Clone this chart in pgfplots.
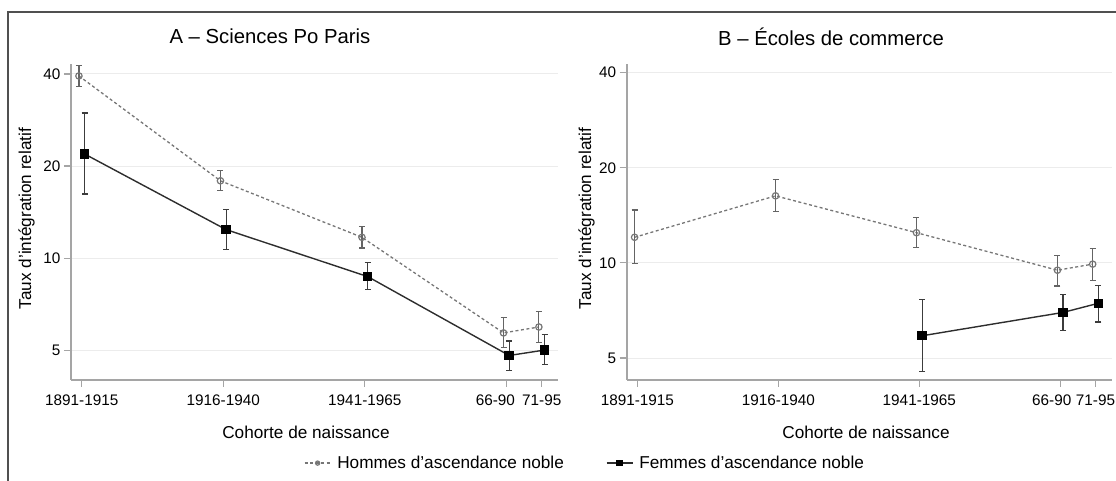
\documentclass[border=0pt]{standalone}
\usepackage{pgfplots}
\pgfplotsset{compat=1.18}
\usepackage{pgfplotstable}
\usepackage{fontspec}
\setmainfont{Liberation Sans}

\definecolor{hgray}{RGB}{118,118,118}
\definecolor{hbar}{RGB}{100,100,100}
\definecolor{fdark}{RGB}{45,45,45}
\definecolor{fbar}{RGB}{60,60,60}
\definecolor{axgray}{RGB}{165,165,165}
\definecolor{gridgray}{RGB}{236,236,236}
\definecolor{framegray}{RGB}{80,80,80}

\pgfplotstableread{
x y ep em
-0.02 39.4 3.2 3.1
0.98 17.9 1.4 1.3
1.98 11.7 1.0 0.9
2.98 5.70 0.71 0.59
3.23 5.96 0.72 0.65
}\tabAH
\pgfplotstableread{
x y ep em
0.02 21.9 7.9 5.7
1.02 12.4 2.0 1.7
2.02 8.71 0.97 0.81
3.02 4.81 0.55 0.52
3.27 5.01 0.61 0.51
}\tabAF
\pgfplotstableread{
x y ep em
-0.02 12.05 2.65 2.12
0.98 16.3 2.05 1.74
1.98 12.46 1.49 1.28
2.98 9.48 1.09 1.03
3.23 9.91 1.21 1.10
}\tabBH
\pgfplotstableread{
x y ep em
2.02 5.88 1.76 1.35
3.02 6.97 0.97 0.86
3.27 7.45 1.05 0.95
}\tabBF

\begin{document}
\begin{tikzpicture}
\path[use as bounding box] (0pt,0pt) rectangle (1116pt,481pt);
\draw[framegray, line width=1.8pt] (8pt,-20pt) rectangle (1140pt,469pt);

\node[font=\fontsize{20.3}{24}\selectfont] at (270pt,444.5pt) {A – Sciences Po Paris};
\node[font=\fontsize{20.3}{24}\selectfont] at (831pt,444.5pt) {B – Écoles de commerce};

\begin{axis}[
  scale only axis, width=487pt, height=316pt,
  at={(71pt,101pt)}, anchor=south west,
  ymode=log, xmin=-0.076, xmax=3.365, ymin=4.0, ymax=43.1,
  axis x line*=bottom, axis y line*=left,
  axis line style={axgray, line width=1.6pt},
  xtick={0,1,2,3,3.25},
  xticklabels={1891-1915,1916-1940,1941-1965,{66-90\hspace*{22pt}},71-95},
  ytick={5,10,20,40}, yticklabels={5,10,20,40},
  yminorticks=false,
  tick align=outside, major tick length=7pt,
  tick style={axgray, line width=1.2pt},
  ymajorgrids, major grid style={gridgray, line width=1pt},
  tick label style={font=\fontsize{15.3}{18}\selectfont},
  xticklabel style={yshift=-4pt},
  xlabel={Cohorte de naissance},
  ylabel={Taux d'intégration relatif},
  label style={font=\fontsize{17.2}{20}\selectfont},
  xlabel style={at={(axis description cs:0.4825,0)}, anchor=center, yshift=-52pt},
  ylabel style={at={(axis description cs:-0.091,0.511)}, anchor=center},
  clip=false,
  legend columns=2,
  legend image code/.code={\draw[mark repeat=2, mark phase=2, #1, every mark/.append style={scale=0.65}] plot coordinates {(0pt,0pt) (13pt,0pt) (26pt,0pt)};},
  legend style={draw=none, fill=none, at={(axis description cs:1.0554,-0.263)}, anchor=center,
    font=\fontsize{17.2}{20}\selectfont,
    /tikz/every odd column/.append style={column sep=4pt},
    /tikz/every even column/.append style={column sep=40pt}},
]
\addplot[hgray, line width=1.3pt, dash pattern=on 3pt off 2.5pt,
    mark=o, mark size=3.2pt,
    mark options={solid, draw=hgray, fill=white, line width=1.2pt},
    error bars/y dir=both, error bars/y explicit,
    error bars/error bar style={solid, hbar, line width=1.2pt},
    error bars/error mark options={solid, rotate=90, mark size=3pt, line width=1.2pt, hbar}]
  table[x=x, y=y, y error plus=ep, y error minus=em] {\tabAH};
\addlegendentry{Hommes d’ascendance noble}
\addplot[fdark, line width=1.4pt, mark=square*, mark size=4pt,
    mark options={solid, draw=black, fill=black},
    error bars/y dir=both, error bars/y explicit,
    error bars/error bar style={solid, fbar, line width=1.2pt},
    error bars/error mark options={solid, rotate=90, mark size=3pt, line width=1.2pt, fbar}]
  table[x=x, y=y, y error plus=ep, y error minus=em] {\tabAF};
\addlegendentry{Femmes d’ascendance noble}
\end{axis}

\begin{axis}[
  scale only axis, width=485pt, height=316pt,
  at={(626.7pt,101pt)}, anchor=south west,
  ymode=log, xmin=-0.076, xmax=3.365, ymin=4.26, ymax=42.6,
  axis x line*=bottom, axis y line*=left,
  axis line style={axgray, line width=1.6pt},
  xtick={0,1,2,3,3.25},
  xticklabels={1891-1915,1916-1940,1941-1965,{66-90\hspace*{17pt}},71-95},
  ytick={5,10,20,40}, yticklabels={5,10,20,40},
  yminorticks=false,
  tick align=outside, major tick length=7pt,
  tick style={axgray, line width=1.2pt},
  ymajorgrids, major grid style={gridgray, line width=1pt},
  tick label style={font=\fontsize{15.3}{18}\selectfont},
  xticklabel style={yshift=-4pt},
  xlabel={Cohorte de naissance},
  ylabel={Taux d'intégration relatif},
  label style={font=\fontsize{17.2}{20}\selectfont},
  xlabel style={at={(axis description cs:0.4934,0)}, anchor=center, yshift=-52pt},
  ylabel style={at={(axis description cs:-0.0825,0.511)}, anchor=center},
  clip=false,
]
\addplot[hgray, line width=1.3pt, dash pattern=on 3pt off 2.5pt,
    mark=o, mark size=3.2pt,
    mark options={solid, draw=hgray, fill=white, line width=1.2pt},
    error bars/y dir=both, error bars/y explicit,
    error bars/error bar style={solid, hbar, line width=1.2pt},
    error bars/error mark options={solid, rotate=90, mark size=3pt, line width=1.2pt, hbar}]
  table[x=x, y=y, y error plus=ep, y error minus=em] {\tabBH};
\addplot[fdark, line width=1.4pt, mark=square*, mark size=4pt,
    mark options={solid, draw=black, fill=black},
    error bars/y dir=both, error bars/y explicit,
    error bars/error bar style={solid, fbar, line width=1.2pt},
    error bars/error mark options={solid, rotate=90, mark size=3pt, line width=1.2pt, fbar}]
  table[x=x, y=y, y error plus=ep, y error minus=em] {\tabBF};
\end{axis}
\end{tikzpicture}
\end{document}
